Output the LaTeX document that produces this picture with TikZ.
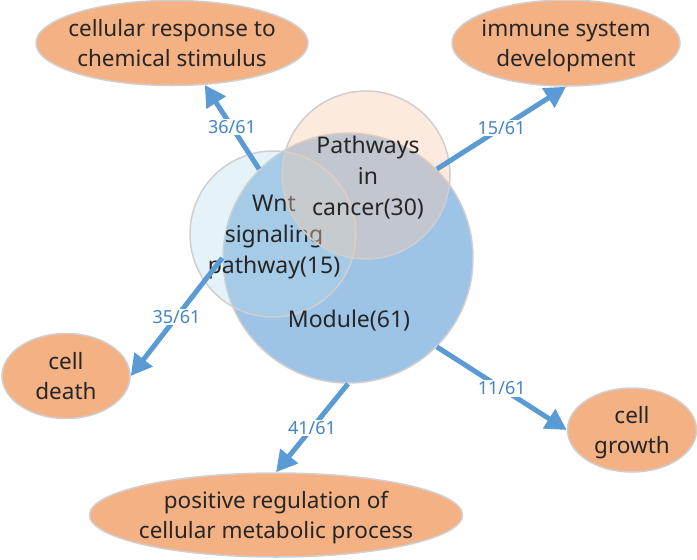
\documentclass[tikz,border=0pt]{standalone}
\usepackage{fontspec}
\setmainfont{Noto Sans}
\usetikzlibrary{shapes.geometric}
\usetikzlibrary{arrows.meta}
\usetikzlibrary{positioning}
\definecolor{termorange}{HTML}{F4B183}
\definecolor{rimgrey}{HTML}{D0CECE}
\definecolor{moduleblue}{HTML}{9DC3E6}
\definecolor{wntblue}{HTML}{B4DCEB}
\definecolor{cancerpeach}{HTML}{F8CBAD}
\definecolor{arrowblue}{HTML}{5B9BD5}
\definecolor{labelblue}{HTML}{4485C5}
\definecolor{textdark}{HTML}{262626}

\begin{document}
\begin{tikzpicture}[x=1pt, y=-1pt,
        goterm/.style={ellipse, draw=rimgrey, line width=1.5pt, fill=termorange, align=center, inner xsep=-30pt, inner ysep=0pt, text depth=0pt, text=textdark, font=\fontsize{22.5}{30}\selectfont},
        setcircle/.style={circle, draw=rimgrey, line width=1.5pt, inner sep=0pt},
        settext/.style={align=center, text=textdark, font=\fontsize{23}{31}\selectfont},
        share/.style={-{Triangle[length=21pt,width=22pt]}, line width=5pt, draw=arrowblue},
        ratio/.style={fill=white, text=labelblue, inner sep=1.5pt, font=\fontsize{18}{18}\selectfont}]
        \useasboundingbox (0,0) rectangle (697,560);

        \node[setcircle, fill=moduleblue, minimum size=250pt] (module) at (348,258) {};
        \node[setcircle, fill=wntblue, fill opacity=0.35, minimum size=166pt] (wnt_path) at (273,234) {};
        \node[settext] (wnt_text) at (274,237) {Wnt\\signaling\\pathway(15)};
        \node[setcircle, fill=cancerpeach, fill opacity=0.4, minimum size=168pt] (cancer_path) at (366,175) {};
        \node[settext] (cancer_text) at (368,178) {Pathways\\in\\cancer(30)};
        \node[settext] (module_text) at (349,321) {Module(61)};

        \node[goterm, minimum width=272pt, minimum height=85pt] (cell_response) at (172,43) {cellular response to\\chemical stimulus};
        \node[goterm, minimum width=228pt, minimum height=86pt] (immune_dev) at (566,43) {immune system\\development};
        \node[goterm, minimum width=128pt, minimum height=85pt] (cell_death) at (66,376) {cell\\death};
        \node[goterm, minimum width=129pt, minimum height=84pt] (cell_growth) at (632,430) {cell\\growth};
        \node[goterm, minimum width=373pt, minimum height=84pt] (pos_regulation) at (276,515) {positive regulation of\\cellular metabolic process};

        \draw[share] (module.135) -- node[ratio] {36/61} (cell_response.-52);
        \draw[share] (module.45) -- node[ratio] {15/61} (immune_dev.south);
        \draw[share] (module.180) -- node[ratio] {35/61} (cell_death.east);
        \draw[share] (module.south) -- node[ratio] {41/61} (pos_regulation.north);
        \draw[share] (module.-45) -- node[ratio] {11/61} (cell_growth.west);
\end{tikzpicture}
\end{document}
